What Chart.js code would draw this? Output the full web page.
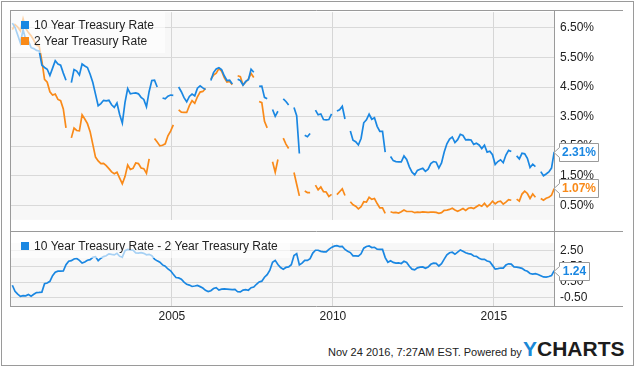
<!DOCTYPE html>
<html>
<head>
<meta charset="utf-8">
<script src="https://cdn.jsdelivr.net/npm/chart.js@4.4.1/dist/chart.umd.min.js"></script>
<style>
  html, body { margin: 0; padding: 0; background: #fff; }
  body { width: 635px; height: 366px; position: relative; overflow: hidden; font-family: "Liberation Sans", Arial, sans-serif; }
  #frame { position: absolute; left: 1px; top: 1px; width: 631px; height: 363px; border: 1px solid #9a9a9a; }
  canvas { position: absolute; left: 0; }
  #c1 { top: 0; }
  #c2 { top: 231px; }
  #foot { position: absolute; left: 328px; top: 346px; font-size: 11px; line-height: 13px; color: #222; white-space: nowrap; }
  #logo { position: absolute; left: 523px; top: 338px; font-weight: bold; font-size: 21px; line-height: 21px; color: #1c1c1c; white-space: nowrap; }
  #logo span { color: #1a88d6; }
</style>
</head>
<body>
<div id="frame"></div>
<canvas id="c1" width="635" height="232"></canvas>
<canvas id="c2" width="635" height="100"></canvas>
<div id="foot">Nov 24 2016, 7:27AM EST. Powered by</div>
<div id="logo"><span>Y</span>CHARTS</div>
<script>
// ---------- data (monthly, Jan 2000 .. Nov 2016) ----------
const startYear = 2000;
const tickYears = [2005, 2010, 2015];
const rateTicks = [0.5, 1.5, 2.5, 3.5, 4.5, 5.5, 6.5];
const spreadTicks = [-0.5, 0.5, 1.5, 2.5];
const seriesNames = ['10 Year Treasury Rate', '2 Year Treasury Rate', '10 Year Treasury Rate - 2 Year Treasury Rate'];

const tenYear = [
  6.66, 6.52, 6.26, 5.99, 6.44, 6.10, 6.05, 5.83, 5.80, 5.74, 5.72, 5.24,
  5.16, 5.10, 4.89, 5.14, 5.39, 5.28, 5.24, 4.97, 4.73, null, 4.65, 5.09,
  5.04, 4.91, 5.28, 5.21, 5.16, 4.93, 4.65, 4.26, 3.87, 3.94, 4.05, 4.03,
  4.05, 3.90, 3.81, 3.96, 3.57, 3.28, 3.98, 4.45, 4.27, 4.29, 4.30, 4.27,
  4.15, 4.08, 3.83, 4.35, 4.72, 4.73, 4.50, null, 4.13, 4.10, 4.19, 4.23,
  4.22, null, 4.50, 4.34, 4.14, 4.00, 4.18, 4.26, 4.20, 4.46, 4.54, 4.47,
  4.42, null, 4.72, 4.99, 5.11, 5.15, 5.09, 4.88, 4.72, 4.73, 4.60, null,
  4.76, 4.72, 4.56, 4.69, 4.75, 5.10, 5.00, null, 4.52, 4.53, 4.15, 4.10,
  null, 3.74, 3.51, 3.68, null, 4.10, 4.01, 3.89, null, 3.81, 3.53, 2.25,
  null, 2.87, 2.82, 2.93, null, 3.72, 3.56, 3.59, 3.40, 3.39, 3.40, 3.59,
  null, 3.69, 3.73, 3.85, 3.42, null, 3.01, 2.70, 2.65, 2.54, 2.76, 3.29,
  3.39, 3.58, 3.41, 3.46, 3.17, 3.00, 3.00, 2.30, null, 2.15, 2.01, 1.98,
  1.97, 1.97, 2.17, 2.05, 1.80, 1.62, 1.53, 1.68, 1.72, 1.75, 1.65, 1.72,
  1.91, 1.98, 1.96, 1.76, 1.93, 2.30, 2.58, 2.74, 2.81, 2.62, 2.72, 2.90,
  2.86, 2.71, 2.72, 2.71, 2.56, 2.60, 2.54, 2.42, 2.53, 2.30, 2.33, 2.21,
  1.88, 1.98, 2.04, 1.94, 2.20, 2.36, 2.32, null, 2.17, 2.07, 2.26, 2.24,
  2.09, 1.78, 1.89, 1.81, null, 1.64, 1.50, 1.56, 1.63, 1.76, 2.31
];

const twoYear = [
  6.44, 6.61, 6.53, 6.40, 6.81, 6.48, 6.34, 6.23, 6.08, 5.91, 5.88, 5.38,
  4.76, 4.66, 4.34, 4.23, 4.26, 4.08, 4.04, 3.76, 3.12, null, 2.78, 3.11,
  3.03, 3.02, 3.56, 3.42, 3.26, 2.99, 2.56, 2.13, 2.00, 1.91, 1.92, 1.84,
  1.74, 1.63, 1.57, 1.62, 1.42, 1.23, 1.47, 1.86, 1.71, 1.75, 1.93, 1.91,
  1.76, 1.74, 1.58, 2.07, null, 2.76, 2.64, 2.51, 2.53, 2.58, 2.85, 3.01,
  3.22, null, 3.73, 3.65, 3.64, 3.64, 3.87, 4.04, 3.95, 4.17, 4.33, 4.35,
  4.45, null, 4.77, 4.90, 4.97, 5.12, 5.04, 4.82, 4.67, 4.69, 4.58, null,
  4.88, 4.85, 4.57, 4.67, 4.77, 4.96, 4.82, null, 4.01, 3.97, 3.34, 3.12,
  null, 1.97, 1.62, 2.05, null, 2.77, 2.57, 2.42, null, 1.61, 1.21, 0.82,
  null, 0.98, 0.93, 0.93, null, 1.18, 1.02, 1.12, 0.96, 0.95, 0.80, 0.87,
  null, 0.86, 0.96, 1.06, 0.83, null, 0.62, 0.52, 0.47, 0.38, 0.45, 0.62,
  0.61, 0.77, 0.70, 0.73, 0.56, 0.41, 0.41, 0.23, null, 0.28, 0.25, 0.26,
  0.24, 0.28, 0.34, 0.29, 0.29, 0.29, 0.25, 0.27, 0.26, 0.28, 0.27, 0.26,
  0.27, 0.27, 0.26, 0.23, 0.25, 0.33, 0.34, 0.36, 0.40, 0.34, 0.30, 0.34,
  0.39, 0.33, 0.40, 0.42, 0.39, 0.45, 0.51, 0.47, 0.57, 0.45, 0.53, 0.64,
  0.55, 0.62, 0.64, 0.54, 0.61, 0.69, 0.67, null, 0.71, 0.64, 0.88, 0.98,
  0.90, 0.73, 0.88, 0.77, null, 0.73, 0.67, 0.74, 0.77, 0.84, 1.07
];

const spread = [
  0.30, -0.09, -0.27, -0.41, -0.37, -0.38, -0.29, -0.40, -0.28, -0.17, -0.16, -0.14,
  0.40, 0.44, 0.55, 0.91, 1.13, 1.20, 1.20, 1.21, 1.61, 1.84, 1.87, 1.98,
  2.01, 1.89, 1.72, 1.79, 1.90, 1.94, 2.09, 2.13, 1.87, 2.03, 2.13, 2.19,
  2.31, 2.27, 2.24, 2.34, 2.15, 2.10, 2.51, 2.59, 2.56, 2.54, 2.37, 2.36,
  2.39, 2.34, 2.25, 2.28, 2.19, 1.97, 1.86, 1.77, 1.60, 1.52, 1.34, 1.22,
  1.00, 0.79, 0.77, 0.69, 0.50, 0.36, 0.31, 0.22, 0.25, 0.29, 0.21, 0.12,
  -0.03, -0.11, -0.05, 0.09, 0.14, -0.01, 0.05, 0.06, 0.05, 0.04, 0.02, 0.03,
  -0.12, -0.13, -0.01, 0.02, -0.02, 0.14, 0.18, 0.36, 0.51, 0.56, 0.81, 0.98,
  1.26, 1.77, 1.89, 1.63, 1.43, 1.33, 1.44, 1.47, 1.61, 2.20, 2.32, 1.60,
  1.71, 1.89, 1.89, 2.00, 2.36, 2.54, 2.54, 2.47, 2.44, 2.44, 2.60, 2.72,
  2.80, 2.83, 2.77, 2.79, 2.59, 2.48, 2.39, 2.18, 2.18, 2.16, 2.31, 2.67,
  2.78, 2.81, 2.71, 2.73, 2.61, 2.59, 2.59, 2.07, 1.77, 1.87, 1.76, 1.72,
  1.73, 1.69, 1.83, 1.76, 1.51, 1.33, 1.28, 1.41, 1.46, 1.47, 1.38, 1.46,
  1.64, 1.71, 1.70, 1.53, 1.68, 1.97, 2.24, 2.38, 2.41, 2.28, 2.42, 2.56,
  2.47, 2.38, 2.32, 2.29, 2.17, 2.15, 2.03, 1.95, 1.96, 1.85, 1.80, 1.57,
  1.33, 1.36, 1.40, 1.40, 1.59, 1.67, 1.65, 1.47, 1.46, 1.43, 1.38, 1.26,
  1.19, 1.05, 1.01, 1.04, 0.99, 0.91, 0.83, 0.82, 0.86, 0.92, 1.24
];

// month positions as decimal years
const months = tenYear.map((_, i) => startYear + (i + 0.5) / 12);
const xMin = 2000, xMax = 2016.9;

// ---------- styling ----------
const BLUE = '#1a87e2', ORANGE = '#f98a19';
const FONT = "'Liberation Sans', Arial, sans-serif";
Chart.defaults.font.family = FONT;
Chart.defaults.font.size = 12;

const pts = arr => arr.map((v, i) => ({ x: months[i], y: v }));

const panelBg = {
  id: 'panelBg',
  beforeDraw(chart) {
    const { ctx, chartArea: a } = chart;
    ctx.save();
    ctx.fillStyle = '#f7f7f7';
    ctx.fillRect(a.left, a.top, a.right - a.left, a.bottom - a.top);
    ctx.restore();
  }
};

function line(ctx, x1, y1, x2, y2) { ctx.beginPath(); ctx.moveTo(x1, y1); ctx.lineTo(x2, y2); ctx.stroke(); }

function callout(ctx, x, y, text, color, w) {
  y = Math.round(y) + 0.5;
  const h = 18, bx = x + 5.5;
  ctx.save();
  ctx.beginPath();
  ctx.moveTo(x, y);
  ctx.lineTo(bx, y - 5);
  ctx.lineTo(bx, y - h / 2);
  ctx.lineTo(bx + w, y - h / 2);
  ctx.lineTo(bx + w, y + h / 2);
  ctx.lineTo(bx, y + h / 2);
  ctx.lineTo(bx, y + 5);
  ctx.closePath();
  ctx.fillStyle = '#fff';
  ctx.fill();
  ctx.strokeStyle = '#9a9a9a';
  ctx.lineWidth = 1;
  ctx.stroke();
  ctx.fillStyle = color;
  ctx.font = 'bold 12px ' + FONT;
  ctx.textAlign = 'center';
  ctx.textBaseline = 'middle';
  ctx.fillText(text, bx + w / 2, y + 0.5);
  ctx.restore();
}

function legendBox(ctx, x, y, w, h, items) {
  ctx.save();
  ctx.fillStyle = 'rgba(255,255,255,0.62)';
  ctx.fillRect(x, y, w, h);
  ctx.font = '12px ' + FONT;
  ctx.textBaseline = 'middle';
  ctx.textAlign = 'left';
  items.forEach(it => {
    ctx.fillStyle = it.color;
    ctx.fillRect(21, it.y - 4, 8, 8);
    ctx.fillStyle = '#222';
    ctx.fillText(it.text, 34, it.y + 0.5);
  });
  ctx.restore();
}

const xScale = (showLabels) => ({
  type: 'linear', min: xMin, max: xMax,
  afterBuildTicks: s => { s.ticks = tickYears.map(v => ({ value: v })); },
  afterFit: s => { s.height = showLabels ? 24 : 0; },
  grid: { color: '#d6d6d6', drawTicks: false, lineWidth: 1 },
  border: { display: false },
  ticks: { display: showLabels, padding: 3, color: '#222', maxRotation: 0, autoSkip: false, callback: v => String(v) }
});

// ---------- top chart ----------
const overlayTop = {
  id: 'overlayTop',
  afterDraw(chart) {
    const { ctx } = chart;
    legendBox(ctx, 11, 11, 154, 42, [
      { color: BLUE, text: seriesNames[0], y: 25 },
      { color: ORANGE, text: seriesNames[1], y: 41 }
    ]);
    ctx.save();
    ctx.strokeStyle = '#9a9a9a';
    ctx.lineWidth = 1;
    line(ctx, 10, 10.5, 623, 10.5);
    line(ctx, 10.5, 10, 10.5, 232);
    line(ctx, 554.5, 10, 554.5, 232);
    line(ctx, 10, 231.5, 623, 231.5);
    ctx.restore();
    const ys = chart.scales.y;
    const r = chart.chartArea.right - 1;
    const lastT = tenYear[tenYear.length - 1], lastW = twoYear[twoYear.length - 1];
    callout(ctx, r, ys.getPixelForValue(lastT), lastT.toFixed(2) + '%', BLUE, 39);
    callout(ctx, r, ys.getPixelForValue(lastW), lastW.toFixed(2) + '%', ORANGE, 39);
  }
};

new Chart(document.getElementById('c1'), {
  type: 'line',
  data: {
    datasets: [
      { label: seriesNames[0], data: pts(tenYear), borderColor: BLUE, borderWidth: 1.7, pointRadius: 0, spanGaps: false, tension: 0 },
      { label: seriesNames[1], data: pts(twoYear), borderColor: ORANGE, borderWidth: 1.7, pointRadius: 0, spanGaps: false, tension: 0 }
    ]
  },
  options: {
    responsive: false, animation: false, devicePixelRatio: 1,
    layout: { padding: { left: 11, top: 10, right: 12, bottom: 1 } },
    plugins: { legend: { display: false }, tooltip: { enabled: false } },
    scales: {
      x: xScale(false),
      y: {
        position: 'right', min: 0.01, max: 7.03,
        afterBuildTicks: s => { s.ticks = rateTicks.map(v => ({ value: v })); },
        afterFit: s => { s.width = 68; },
        grid: { color: '#d9d9d9', drawTicks: false },
        border: { display: false },
        ticks: { padding: 5, color: '#222', callback: v => v.toFixed(2) + '%' }
      }
    }
  },
  plugins: [panelBg, overlayTop]
});

// ---------- bottom chart ----------
const overlayBottom = {
  id: 'overlayBottom',
  afterDraw(chart) {
    const { ctx } = chart;
    legendBox(ctx, 11, 1, 279, 26, [{ color: BLUE, text: seriesNames[2], y: 15 }]);
    ctx.save();
    ctx.strokeStyle = '#9a9a9a';
    ctx.lineWidth = 1;
    line(ctx, 10.5, 0, 10.5, 76);
    line(ctx, 554.5, 0, 554.5, 76);
    line(ctx, 10, 75.5, 623, 75.5);
    ctx.restore();
    const ys = chart.scales.y;
    const lastS = spread[spread.length - 1];
    callout(ctx, chart.chartArea.right - 1, ys.getPixelForValue(lastS), lastS.toFixed(2), BLUE, 30);
  }
};

new Chart(document.getElementById('c2'), {
  type: 'line',
  data: {
    datasets: [
      { label: seriesNames[2], data: pts(spread), borderColor: BLUE, borderWidth: 1.7, pointRadius: 0, tension: 0 }
    ]
  },
  options: {
    responsive: false, animation: false, devicePixelRatio: 1,
    layout: { padding: { left: 11, top: 1, right: 12, bottom: 1 } },
    plugins: { legend: { display: false }, tooltip: { enabled: false } },
    scales: {
      x: xScale(true),
      y: {
        position: 'right', min: -1.03, max: 2.99,
        afterBuildTicks: s => { s.ticks = spreadTicks.map(v => ({ value: v })); },
        afterFit: s => { s.width = 68; },
        grid: { color: '#d9d9d9', drawTicks: false },
        border: { display: false },
        ticks: { padding: 5, color: '#222', callback: v => v.toFixed(2) }
      }
    }
  },
  plugins: [panelBg, overlayBottom]
});
</script>
</body>
</html>
